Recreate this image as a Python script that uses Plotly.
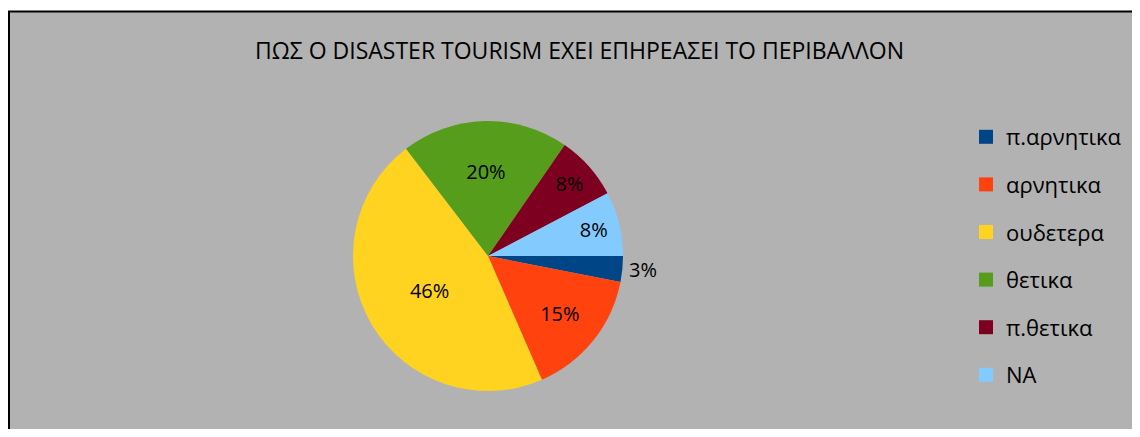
import plotly.graph_objects as go

labels = ["π.αρνητικα", "αρνητικα", "ουδετερα", "θετικα", "π.θετικα", "NA"]
counts = [2, 10, 30, 13, 5, 5]
colors = ["#004586", "#ff420e", "#ffd320", "#579d1c", "#7e0021", "#83caff"]
title_text = "ΠΩΣ Ο DISASTER TOURISM ΕΧΕΙ ΕΠΗΡΕΑΣΕΙ ΤΟ ΠΕΡΙΒΑΛΛΟΝ"

OFF = 8  # page body margin offset
W, H = 1140 - OFF, 437 - 2 * OFF
FONT = "Open Sans"

def px_x(x):
    return (x - OFF) / W

def px_y(y):
    return 1 - (y - OFF) / H

fig = go.Figure()

fig.add_trace(go.Pie(
    labels=labels,
    values=counts,
    sort=False,
    direction="clockwise",
    rotation=90,
    marker=dict(colors=colors, line=dict(width=0)),
    textinfo="percent",
    texttemplate="%{percent:.0%}",
    textposition=["outside", "inside", "inside", "inside", "inside", "inside"],
    insidetextorientation="horizontal",
    textfont=dict(family=FONT, size=20, color="black"),
    outsidetextfont=dict(family=FONT, size=20, color="black"),
    showlegend=False,
    domain=dict(x=[px_x(300), px_x(676)], y=[px_y(391), px_y(121)]),
    hoverinfo="label+percent",
))

for lab, col in zip(labels, colors):
    fig.add_trace(go.Scatter(
        x=[None], y=[None], mode="markers", name=lab,
        marker=dict(symbol="square", size=14, color=col, line=dict(width=0)),
        legendgroup=lab, showlegend=True,
    ))

fig.update_layout(
    width=W, height=H,
    margin=dict(l=0, r=0, t=0, b=0),
    paper_bgcolor="white",
    plot_bgcolor="rgba(0,0,0,0)",
    xaxis=dict(visible=False, range=[0, 1]),
    yaxis=dict(visible=False, range=[0, 1]),
    showlegend=True,
    legend=dict(
        x=px_x(966), y=px_y(116), xanchor="left", yanchor="top",
        font=dict(family=FONT, size=22, color="black"),
        bgcolor="rgba(0,0,0,0)",
        tracegroupgap=16,
        itemsizing="trace",
    ),
    shapes=[dict(
        type="rect", xref="paper", yref="paper",
        x0=px_x(9), x1=px_x(1160), y0=px_y(460), y1=px_y(11.5),
        fillcolor="#b2b2b2", line=dict(color="black", width=2), layer="below",
    )],
    annotations=[
        dict(text=title_text, x=px_x(579), y=px_y(50), xref="paper", yref="paper",
             xanchor="center", yanchor="middle", showarrow=False,
             font=dict(family=FONT, size=23, color="black")),
        dict(text="θετικα.", x=px_x(-2), y=px_y(18), xref="paper", yref="paper",
             xanchor="left", yanchor="bottom", showarrow=False,
             font=dict(family=FONT, size=28, color="black")),
    ],
)

fig.write_html("out.html")
